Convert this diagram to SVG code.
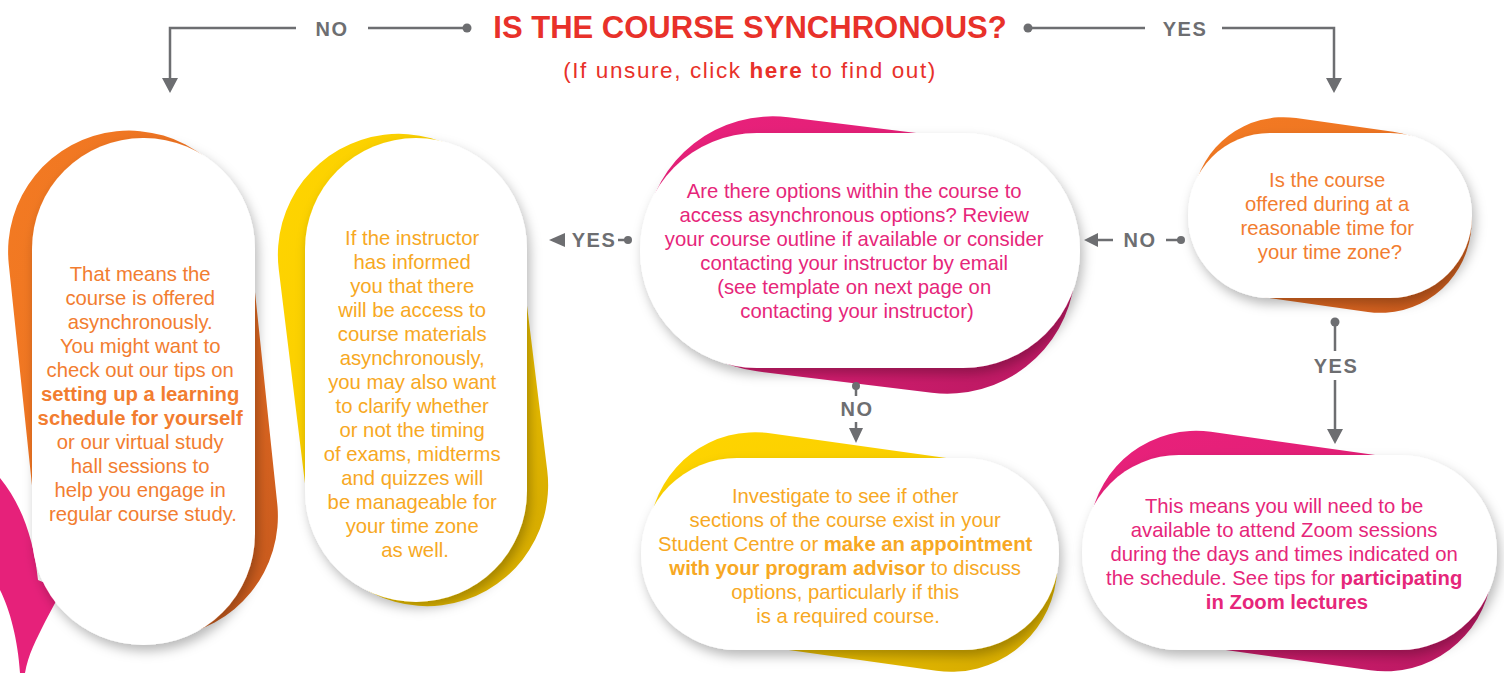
<svg xmlns="http://www.w3.org/2000/svg" width="1504" height="673" viewBox="0 0 1504 673">
<defs>
<linearGradient id="gOr" x1="0" y1="0" x2="1" y2="1"><stop offset="0" stop-color="#F37B22"/><stop offset="0.6" stop-color="#EC7023"/><stop offset="1" stop-color="#C2561C"/></linearGradient>
<linearGradient id="gYe" x1="0" y1="0" x2="1" y2="1"><stop offset="0" stop-color="#FFD500"/><stop offset="0.6" stop-color="#F7CB00"/><stop offset="1" stop-color="#CFA400"/></linearGradient>
<linearGradient id="gPk" x1="0" y1="0" x2="1" y2="1"><stop offset="0" stop-color="#E9217B"/><stop offset="0.6" stop-color="#DF1E74"/><stop offset="1" stop-color="#B4185F"/></linearGradient>
<filter id="sh" x="-20%" y="-20%" width="140%" height="140%"><feDropShadow dx="3" dy="6" stdDeviation="6" flood-color="#000" flood-opacity="0.28"/></filter>
</defs>
<style>
.t{font-family:"Liberation Sans",Arial,sans-serif;font-size:20.3px;text-anchor:middle}
.b{font-weight:bold}
.or{fill:#F27D30}
.am{fill:#F7A823}
.pk{fill:#E6267A}
.lb{font-family:"Liberation Sans",Arial,sans-serif;font-weight:bold;font-size:20px;fill:#6D6E71;text-anchor:middle;letter-spacing:1.5px}
.ln{stroke:#6D6E71;stroke-width:2.5;fill:none}
.dot{fill:#6D6E71}
.card{fill:#fff;filter:url(#sh)}
</style>
<rect width="1504" height="673" fill="#fff"/>

<path d="M0,478 C22,505 34,540 38,580 L62,590 L46,620 C36,640 28,655 25,673 L20,673 C18,640 10,610 0,590 Z" fill="#E6217A"/>

<g id="header">
<text x="750" y="38" font-family="Liberation Sans, Arial, sans-serif" font-weight="bold" font-size="31" fill="#E8312A" text-anchor="middle">IS THE COURSE SYNCHRONOUS?</text>
<text x="750" y="78" font-family="Liberation Sans, Arial, sans-serif" font-size="22.5" letter-spacing="1.6" fill="#E8312A" text-anchor="middle">(If unsure, click <tspan font-weight="bold">here</tspan> to find out)</text>
</g>

<g id="node-async">
<rect x="22" y="130" width="242" height="508" rx="121" fill="url(#gOr)" transform="rotate(-6 142 384)"/>
<rect class="card" x="32" y="138" width="223" height="507" rx="111"/>
<text class="t or">
<tspan x="143" y="281">That means the</tspan>
<tspan x="143" y="305">course is offered</tspan>
<tspan x="143" y="329">asynchronously.</tspan>
<tspan x="143" y="353">You might want to</tspan>
<tspan x="143" y="377">check out our tips on</tspan>
<tspan x="143" y="401" class="b">setting up a learning</tspan>
<tspan x="143" y="425" class="b">schedule for yourself</tspan>
<tspan x="143" y="449">or our virtual study</tspan>
<tspan x="143" y="473">hall sessions to</tspan>
<tspan x="143" y="497">help you engage in</tspan>
<tspan x="143" y="521">regular course study.</tspan>
</text>
</g>

<g id="node-instructor">
<rect x="292" y="133" width="242" height="474" rx="121" fill="url(#gYe)" transform="rotate(-7 413 370)"/>
<rect class="card" x="305" y="138" width="222" height="464" rx="111"/>
<text class="t am">
<tspan x="415" y="245">If the instructor</tspan>
<tspan x="415" y="269">has informed</tspan>
<tspan x="415" y="293">you that there</tspan>
<tspan x="415" y="317">will be access to</tspan>
<tspan x="415" y="341">course materials</tspan>
<tspan x="415" y="365">asynchronously,</tspan>
<tspan x="415" y="389">you may also want</tspan>
<tspan x="415" y="413">to clarify whether</tspan>
<tspan x="415" y="437">or not the timing</tspan>
<tspan x="415" y="461">of exams, midterms</tspan>
<tspan x="415" y="485">and quizzes will</tspan>
<tspan x="415" y="509">be manageable for</tspan>
<tspan x="415" y="533">your time zone</tspan>
<tspan x="415" y="557">as well.</tspan>
</text>
</g>

<g id="node-options">
<rect x="644" y="127" width="432" height="256" rx="128" fill="url(#gPk)" transform="rotate(7 860 255)"/>
<rect class="card" x="640" y="133" width="440" height="235" rx="117"/>
<text class="t pk">
<tspan x="857" y="198">Are there options within the course to</tspan>
<tspan x="857" y="222">access asynchronous options? Review</tspan>
<tspan x="857" y="246">your course outline if available or consider</tspan>
<tspan x="857" y="270">contacting your instructor by email</tspan>
<tspan x="857" y="294">(see template on next page on</tspan>
<tspan x="857" y="318">contacting your instructor)</tspan>
</text>
</g>

<g id="node-time">
<rect x="1192" y="124" width="280" height="182" rx="91" fill="url(#gOr)" transform="rotate(8 1332 215)"/>
<rect class="card" x="1188" y="133" width="284" height="165" rx="82"/>
<text class="t or">
<tspan x="1330" y="187">Is the course</tspan>
<tspan x="1330" y="211">offered during at a</tspan>
<tspan x="1330" y="235">reasonable time for</tspan>
<tspan x="1330" y="259">your time zone?</tspan>
</text>
</g>

<g id="node-investigate">
<rect x="648" y="446" width="410" height="212" rx="106" fill="url(#gYe)" transform="rotate(8 853 553)"/>
<rect class="card" x="641" y="458" width="418" height="192" rx="96"/>
<text class="t am">
<tspan x="848" y="503">Investigate to see if other</tspan>
<tspan x="848" y="527">sections of the course exist in your</tspan>
<tspan x="848" y="551">Student Centre or <tspan class="b">make an appointment</tspan></tspan>
<tspan x="848" y="575"><tspan class="b">with your program advisor</tspan> to discuss</tspan>
<tspan x="848" y="599">options, particularly if this</tspan>
<tspan x="848" y="623">is a required course.</tspan>
</text>
</g>

<g id="node-zoom">
<rect x="1088" y="444" width="405" height="214" rx="107" fill="url(#gPk)" transform="rotate(8 1290 552)"/>
<rect class="card" x="1082" y="455" width="415" height="195" rx="97"/>
<text class="t pk">
<tspan x="1287" y="513">This means you will need to be</tspan>
<tspan x="1287" y="537">available to attend Zoom sessions</tspan>
<tspan x="1287" y="561">during the days and times indicated on</tspan>
<tspan x="1287" y="585">the schedule. See tips for <tspan class="b">participating</tspan></tspan>
<tspan x="1287" y="609" class="b">in Zoom lectures</tspan>
</text>
</g>

<g id="connectors">
<circle class="dot" cx="467" cy="28" r="4.5"/>
<path class="ln" d="M467,28 H368"/>
<path class="ln" d="M296,28 H170 V80"/>
<path class="dot" d="M162,78 L178,78 L170,93 Z"/>
<text class="lb" x="332" y="36">NO</text>

<circle class="dot" cx="1028" cy="28" r="4.5"/>
<path class="ln" d="M1028,28 H1145"/>
<path class="ln" d="M1222,28 H1334 V80"/>
<path class="dot" d="M1326,78 L1342,78 L1334,93 Z"/>
<text class="lb" x="1185" y="36">YES</text>

<path class="dot" d="M549,240 L565,233 L565,247 Z"/>
<text class="lb" x="594" y="247">YES</text>
<path class="ln" d="M618,240 H628"/>
<circle class="dot" cx="628" cy="240" r="4"/>

<path class="dot" d="M1084,240 L1098,233 L1098,247 Z"/>
<path class="ln" d="M1096,240 H1113"/>
<text class="lb" x="1140" y="247">NO</text>
<path class="ln" d="M1166,240 H1181"/>
<circle class="dot" cx="1181" cy="240" r="4"/>

<circle class="dot" cx="1335" cy="322" r="4.5"/>
<path class="ln" d="M1335,322 V351"/>
<text class="lb" x="1336" y="373">YES</text>
<path class="ln" d="M1335,380 V431"/>
<path class="dot" d="M1327,429 L1343,429 L1335,444 Z"/>

<circle class="dot" cx="856" cy="386" r="4"/>
<path class="ln" d="M856,386 V396"/>
<text class="lb" x="857" y="416">NO</text>
<path class="ln" d="M856,422 V430"/>
<path class="dot" d="M849,428 L863,428 L856,443 Z"/>
</g>
</svg>
